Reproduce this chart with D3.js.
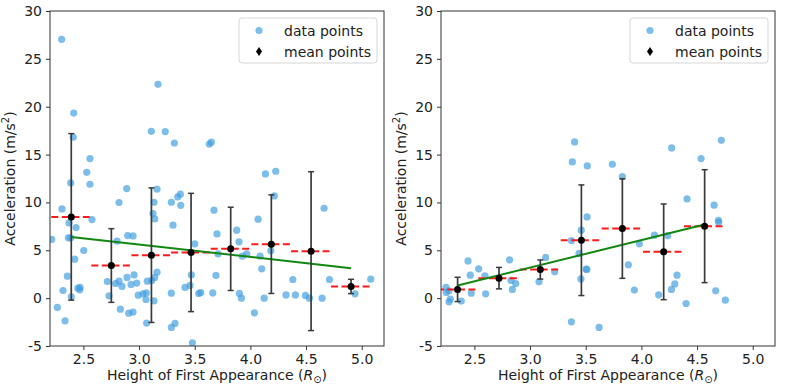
<!DOCTYPE html>
<html><head><meta charset="utf-8">
<script src="https://cdn.jsdelivr.net/npm/d3@7"></script>
<style>
body{margin:0;background:#fff;}
text{font-family:"DejaVu Sans",sans-serif;fill:#222;}
</style></head><body>
<svg id="chart" width="785" height="388"></svg>
<script>
// ---------- data ----------
const leftX = [2.305,2.413,2.409,2.559,2.53,2.386,2.559,2.889,2.82,3.17,3.11,3.235,3.317,3.631,3.649,3.161,3.134,3.29,3.347,3.371,3.374,4.135,4.228,4.215,2.308,3.125,3.141,3.673,2.371,2.434,2.577,2.215,2.365,2.386,2.503,2.422,2.898,2.946,2.802,3.305,3.5,3.7,2.356,2.317,2.45,2.47,2.467,2.391,2.266,2.335,2.715,2.79,2.82,2.847,2.892,2.955,2.928,2.979,2.73,2.832,2.907,2.946,2.993,3.036,3.065,3.074,3.114,3.062,3.134,3.068,3.161,3.141,3.29,3.323,3.29,3.47,3.413,3.458,3.536,3.554,3.479,3.691,3.662,4.069,3.877,3.898,3.967,3.928,3.709,4.087,4.183,4.102,3.901,3.919,4.124,4.036,4.381,4.32,4.404,4.494,4.53,4.644,4.662,4.71,4.94,5.081];
const leftY = [27.04,19.34,16.81,14.58,13.15,12.04,11.9,11.45,9.99,22.34,17.43,17.4,16.21,16.1,16.3,11.38,10.02,10.02,10.57,10.86,9.7,12.98,13.26,10.68,9.32,8.84,8.28,9.19,7.86,7.38,8.21,6.13,6.3,6.3,4.98,4.07,6.54,6.5,5.95,7.62,5.67,6.71,2.3,0.8,1.04,1.12,0.87,0.14,-0.97,-2.37,1.74,1.53,1.77,1.22,2.16,2.43,1.43,1.57,0.24,-1.15,-1.57,-1.46,0.31,0.45,0.55,1.77,1.85,-0.14,-0.28,-2.61,2.71,2.16,0.52,-2.64,-3.06,2.43,1.12,1.33,0.49,0.59,-4.66,2.37,0.55,8.25,7.1,5.88,4.62,4.38,4.62,4.38,4.94,3.06,0.49,0.0,0.0,-1.53,1.95,0.34,0.34,0.28,0.0,0.0,9.39,1.95,0.45,1.98];
const leftMeanX = [2.391,2.751,3.111,3.467,3.823,4.188,4.545,4.904];
const leftMeanY = [8.49,3.41,4.49,4.77,5.15,5.64,4.91,1.22];
const leftErr   = [8.70,3.85,7.03,6.18,4.35,5.15,8.30,0.75];
const leftBinWidth = 0.359;
const leftFitX = [2.391,4.904];
const leftFitY = [6.40,3.13];

const rightX = [3.4,3.38,3.514,3.739,3.829,4.272,4.536,4.718,4.41,3.512,3.46,3.371,3.44,3.503,3.51,3.457,3.371,2.245,2.248,2.272,2.284,2.272,2.382,2.443,2.463,2.472,2.538,2.595,2.601,2.816,2.829,2.871,2.841,3.14,3.08,3.221,3.62,3.883,3.937,3.982,4.117,4.236,4.155,4.27,4.3,4.32,4.401,4.653,4.692,4.694,4.667,4.754];
const rightY = [16.32,14.23,13.81,13.99,12.7,15.69,14.58,16.49,10.37,8.49,7.1,6.02,4.67,3.03,3.0,2.01,-2.47,1.12,0.6,0.76,-0.1,-0.38,-0.31,3.89,2.4,0.52,3.06,2.33,0.45,4.0,1.85,1.53,0.91,4.25,1.7,2.75,-3.06,3.48,0.84,5.67,6.58,6.54,0.35,0.91,1.49,2.4,-0.56,9.71,8.14,7.93,0.76,-0.21];
const rightMeanX = [2.349,2.721,3.092,3.461,3.829,4.200,4.568];
const rightMeanY = [0.91,2.09,2.99,6.05,7.27,4.84,7.52];
const rightErr   = [1.27,1.12,1.00,5.78,5.20,5.00,5.90];
const rightBinWidth = 0.371;
const rightFitX = [2.349,4.568];
const rightFitY = [1.33,7.69];

const xTicks = [2.5,3.0,3.5,4.0,4.5,5.0];
const yTicks = [-5,0,5,10,15,20,25,30];
const legendLabels = ["data points","mean points"];

// ---------- drawing ----------
const svg = d3.select("#chart");
const plotTop = 11, plotBottom = 346;

function panel(x0, x1, xs, ys, mx, my, me, bw, fx, fy, clipId){
  const x = d3.scaleLinear().domain([2.2,5.2]).range([x0,x1]);
  const y = d3.scaleLinear().domain([-5,30]).range([plotBottom,plotTop]);
  const g = svg.append("g");
  svg.append("clipPath").attr("id",clipId).append("rect")
    .attr("x",x0).attr("y",plotTop).attr("width",x1-x0).attr("height",plotBottom-plotTop);
  const pg = g.append("g").attr("clip-path",`url(#${clipId})`);

  pg.selectAll("circle.d").data(xs.map((v,i)=>[v,ys[i]])).join("circle")
    .attr("cx",d=>x(d[0])).attr("cy",d=>y(d[1])).attr("r",3.6)
    .attr("fill","#3f9ee0").attr("fill-opacity",0.68);

  pg.selectAll("line.r").data(mx.map((v,i)=>[v,my[i]])).join("line")
    .attr("x1",d=>x(d[0]-bw/2)).attr("x2",d=>x(d[0]+bw/2))
    .attr("y1",d=>y(d[1])).attr("y2",d=>y(d[1]))
    .attr("stroke","#ff1a1a").attr("stroke-width",2).attr("stroke-dasharray","7,3.5");

  pg.append("line").attr("x1",x(fx[0])).attr("x2",x(fx[1]))
    .attr("y1",y(fy[0])).attr("y2",y(fy[1]))
    .attr("stroke","#118811").attr("stroke-width",2);

  const eb = pg.selectAll("g.e").data(mx.map((v,i)=>[v,my[i],me[i]])).join("g");
  eb.append("line").attr("x1",d=>x(d[0])).attr("x2",d=>x(d[0]))
    .attr("y1",d=>y(d[1]-d[2])).attr("y2",d=>y(d[1]+d[2]))
    .attr("stroke","#3a3a3a").attr("stroke-width",1.7);
  eb.append("line").attr("x1",d=>x(d[0])-3).attr("x2",d=>x(d[0])+3)
    .attr("y1",d=>y(d[1]-d[2])).attr("y2",d=>y(d[1]-d[2]))
    .attr("stroke","#3a3a3a").attr("stroke-width",1.5);
  eb.append("line").attr("x1",d=>x(d[0])-3).attr("x2",d=>x(d[0])+3)
    .attr("y1",d=>y(d[1]+d[2])).attr("y2",d=>y(d[1]+d[2]))
    .attr("stroke","#3a3a3a").attr("stroke-width",1.5);
  eb.append("circle").attr("cx",d=>x(d[0])).attr("cy",d=>y(d[1])).attr("r",3.5).attr("fill","#000");

  const xa = g.append("g").attr("transform",`translate(0,${plotBottom})`)
    .call(d3.axisBottom(x).tickValues(xTicks).tickSize(4).tickPadding(4).tickFormat(d3.format(".1f")));
  const ya = g.append("g").attr("transform",`translate(${x0},0)`)
    .call(d3.axisLeft(y).tickValues(yTicks).tickSize(4).tickPadding(4).tickFormat(d=>d<0?"-"+Math.abs(d):d));
  [xa,ya].forEach(a=>{
    a.select(".domain").remove();
    a.selectAll(".tick line").attr("stroke","#333");
    a.selectAll("text").attr("font-size",14).attr("font-family","DejaVu Sans").attr("fill","#222");
  });
  g.append("rect").attr("x",x0).attr("y",plotTop).attr("width",x1-x0).attr("height",plotBottom-plotTop)
    .attr("fill","none").attr("stroke","#333").attr("stroke-width",1);

  const xl = g.append("text").attr("x",(x0+x1)/2).attr("y",380).attr("text-anchor","middle").attr("font-size",14);
  xl.append("tspan").text("Height of First Appearance (");
  xl.append("tspan").attr("font-style","italic").text("R");
  xl.append("tspan").attr("font-size",10).attr("dy",3).text("⊙");
  xl.append("tspan").attr("dy",-3).text(")");

  const yl = g.append("text").attr("transform",`translate(${x0-35},${(plotTop+plotBottom)/2}) rotate(-90)`)
    .attr("text-anchor","middle").attr("font-size",14);
  yl.append("tspan").text("Acceleration (m/s");
  yl.append("tspan").attr("font-size",10).attr("dy",-6).text("2");
  yl.append("tspan").attr("dy",6).text(")");

  const lg = g.append("g").attr("transform",`translate(${x1-145},18)`);
  lg.append("rect").attr("x",0).attr("y",0).attr("width",138).attr("height",45).attr("rx",3)
    .attr("fill","#fff").attr("fill-opacity",0.85).attr("stroke","#d6d6d6");
  lg.append("circle").attr("cx",20).attr("cy",12.5).attr("r",3.6).attr("fill","#3f9ee0").attr("fill-opacity",0.68);
  lg.append("path").attr("d","M20,29 L23,33.5 L20,38 L17,33.5 Z").attr("fill","#000");
  lg.selectAll("text.l").data(legendLabels).join("text")
    .attr("x",45).attr("y",(d,i)=>17.5+i*21).attr("font-size",14).text(d=>d);
}

panel(50,384,leftX,leftY,leftMeanX,leftMeanY,leftErr,leftBinWidth,leftFitX,leftFitY,"clipL");
panel(441,775,rightX,rightY,rightMeanX,rightMeanY,rightErr,rightBinWidth,rightFitX,rightFitY,"clipR");
</script></body></html>
